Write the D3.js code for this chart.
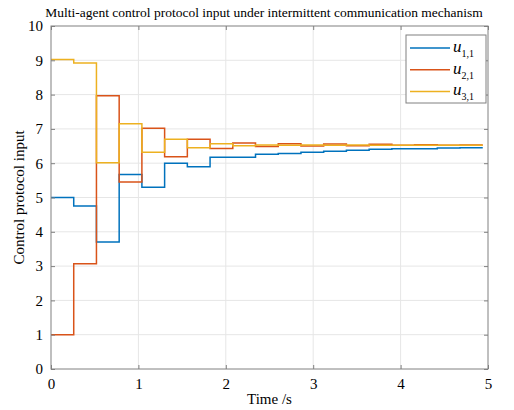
<!DOCTYPE html>
<html>
<head>
<meta charset="utf-8">
<script src="https://cdn.jsdelivr.net/npm/d3@7"></script>
<style>
  body { margin: 0; background: #fff; }
  text { font-family: "Liberation Serif", "Times New Roman", serif; fill: #000; }
</style>
</head>
<body>
<div id="chart"></div>
<script>

// step times (s), each value holds until the next time
var times = [0, 0.26, 0.52, 0.78, 1.04, 1.30, 1.56, 1.82, 2.08, 2.34,
             2.60, 2.86, 3.12, 3.38, 3.64, 3.90, 4.16, 4.42, 4.68, 4.94];

var u11 = [5.0, 4.75, 3.7, 5.67, 5.3, 6.0, 5.9, 6.17, 6.17, 6.26,
           6.28, 6.32, 6.35, 6.38, 6.41, 6.42, 6.42, 6.44, 6.45];
var u21 = [1.0, 3.07, 7.97, 5.45, 7.02, 6.19, 6.70, 6.43, 6.59, 6.49,
           6.57, 6.50, 6.56, 6.51, 6.55, 6.52, 6.54, 6.52, 6.53];
var u31 = [9.02, 8.92, 6.01, 7.15, 6.32, 6.70, 6.45, 6.57, 6.51, 6.53,
           6.52, 6.53, 6.52, 6.53, 6.52, 6.52, 6.52, 6.52, 6.52];

var seriesNames = ["1,1", "2,1", "3,1"];
var colors = ["#0072BD", "#D95319", "#EDB120"];
var xTicks = [0, 1, 2, 3, 4, 5];
var yTicks = [0, 1, 2, 3, 4, 5, 6, 7, 8, 9, 10];

var serif = '"Liberation Serif", "Times New Roman", serif';
var width = 514, height = 410;
var margin = {top: 26, right: 26, bottom: 41, left: 51};
var w = width - margin.left - margin.right,
    h = height - margin.top - margin.bottom;

var svg = d3.select("#chart").append("svg")
    .attr("width", width)
    .attr("height", height);

var g = svg.append("g")
    .attr("transform", "translate(" + margin.left + "," + margin.top + ")");

var x = d3.scaleLinear().domain([0, 5]).range([0, w]);
var y = d3.scaleLinear().domain([0, 10]).range([h, 0]);

// grid
g.selectAll("line.gx").data(xTicks.slice(1, -1)).enter().append("line")
    .attr("x1", d => x(d)).attr("x2", d => x(d))
    .attr("y1", 0).attr("y2", h)
    .attr("stroke", "#e6e6e6").attr("stroke-width", 1);
g.selectAll("line.gy").data(yTicks.slice(1, -1)).enter().append("line")
    .attr("y1", d => y(d)).attr("y2", d => y(d))
    .attr("x1", 0).attr("x2", w)
    .attr("stroke", "#e6e6e6").attr("stroke-width", 1);

// series as stairs
var line = d3.line()
    .x(d => x(d[0]))
    .y(d => y(d[1]))
    .curve(d3.curveStepAfter);

[u11, u21, u31].forEach(function(vals, k){
  var pts = vals.map((v, i) => [times[i], v]);
  pts.push([times[vals.length], vals[vals.length - 1]]);
  g.append("path")
      .datum(pts)
      .attr("fill", "none")
      .attr("stroke", colors[k])
      .attr("stroke-width", 1.5)
      .attr("d", line);
});

// axes (ticks pointing inward, mirrored on top/right)
var axColor = "#808080";
function styleAxis(sel){
  sel.attr("font-family", serif).attr("font-size", 15);
  sel.select(".domain").remove();
  sel.selectAll(".tick line").attr("stroke", axColor);
  sel.selectAll(".tick text").attr("fill", "#000");
}

g.append("g").attr("transform", "translate(0," + h + ")")
  .call(d3.axisBottom(x).tickValues(xTicks).tickFormat(d3.format("d"))
        .tickSizeInner(-4).tickPadding(9))
  .call(styleAxis);
g.append("g")
  .call(d3.axisLeft(y).tickValues(yTicks).tickFormat(d3.format("d"))
        .tickSizeInner(-4).tickPadding(8))
  .call(styleAxis);
g.append("g")
  .call(d3.axisTop(x).tickValues(xTicks).tickFormat("").tickSizeInner(-4))
  .call(styleAxis);
g.append("g").attr("transform", "translate(" + w + ",0)")
  .call(d3.axisRight(y).tickValues(yTicks).tickFormat("").tickSizeInner(-4))
  .call(styleAxis);

g.append("rect")
    .attr("width", w).attr("height", h)
    .attr("fill", "none").attr("stroke", axColor).attr("stroke-width", 1);

// title and labels
svg.append("text")
    .attr("x", 264).attr("y", 17)
    .attr("text-anchor", "middle")
    .style("font-size", "13.5px")
    .text("Multi-agent control protocol input under intermittent communication mechanism");

svg.append("text")
    .attr("x", margin.left + w / 2).attr("y", 404)
    .attr("text-anchor", "middle")
    .style("font-size", "15px")
    .text("Time /s");

svg.append("text")
    .attr("transform", "translate(24," + (margin.top + h / 2) + ") rotate(-90)")
    .attr("text-anchor", "middle")
    .style("font-size", "15px")
    .text("Control protocol input");

// legend
var leg = svg.append("g").attr("transform", "translate(406,35)");
leg.append("rect")
    .attr("width", 80).attr("height", 68)
    .attr("fill", "#fff").attr("stroke", "#808080").attr("stroke-width", 1);
seriesNames.forEach(function(name, k){
  var ly = 13 + k * 21.7;
  leg.append("line")
      .attr("x1", 4).attr("x2", 44)
      .attr("y1", ly).attr("y2", ly)
      .attr("stroke", colors[k]).attr("stroke-width", 1.5);
  var t = leg.append("text")
      .attr("x", 47).attr("y", ly + 4);
  t.append("tspan").style("font-style", "italic").style("font-size", "17px").text("u");
  t.append("tspan").attr("dy", 5).style("font-size", "10px").text(name);
});

</script>
</body>
</html>
